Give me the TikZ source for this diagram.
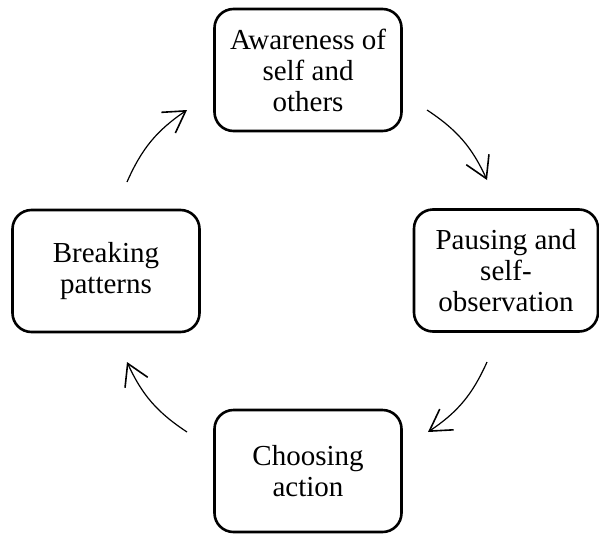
\documentclass[tikz,border=0pt]{standalone}
\usepackage{fontspec}
\setmainfont{Liberation Serif}
\usetikzlibrary{arrows.meta}
\begin{document}
\begin{tikzpicture}[x=1pt,y=-1pt,
  stagebox/.style={draw, line width=2.6pt, rounded corners=19pt, align=center,
    font=\fontsize{29}{31}\selectfont, inner sep=0pt, minimum width=187pt, minimum height=122pt},
  cyclearrow/.style={line width=1.2pt, -{Straight Barb[length=21pt,width=25pt,line width=1.6pt]}, bend left=16}]
\useasboundingbox (0,0) rectangle (599,533);
\node[stagebox] (aware) at (308,70) {Awareness of\\self and\\others};
\node[stagebox, minimum width=184pt] (pause) at (506,270.5) {Pausing and\\self-\\observation};
\node[stagebox] (choose) at (308,471) {Choosing\\action};
\node[stagebox] (break) at (106,271) {Breaking\\patterns};
\coordinate (a1s) at (127,182); \coordinate (a1e) at (187,110);
\coordinate (a2s) at (427,110); \coordinate (a2e) at (487,180);
\coordinate (a3s) at (487,362); \coordinate (a3e) at (428,432);
\coordinate (a4s) at (187,432); \coordinate (a4e) at (127,362);
\draw[cyclearrow] (a1s) to (a1e);
\draw[cyclearrow] (a2s) to (a2e);
\draw[cyclearrow] (a3s) to (a3e);
\draw[cyclearrow] (a4s) to (a4e);
\end{tikzpicture}
\end{document}
